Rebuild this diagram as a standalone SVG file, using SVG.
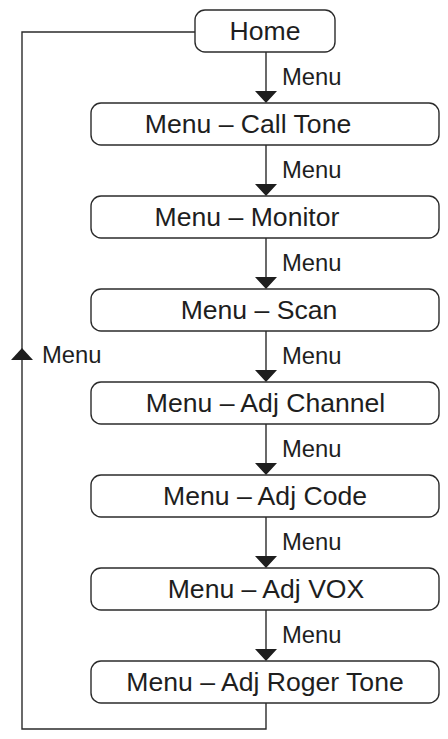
<svg xmlns="http://www.w3.org/2000/svg" width="448" height="739" viewBox="0 0 448 739">
<defs>
<style>
.box{fill:#fff;stroke:#2b2b2b;stroke-width:1.4}
.t{font-family:"Liberation Sans",Arial,sans-serif;font-size:26.6px;fill:#1e1e1e;text-anchor:middle}
.l{font-family:"Liberation Sans",Arial,sans-serif;font-size:23.8px;fill:#1e1e1e}
.c{fill:none;stroke:#2b2b2b;stroke-width:1.4}
.a{fill:#1e1e1e}
</style>
</defs>
<rect width="448" height="739" fill="#fff"/>
<g id="connectors">
<path class="c" d="M266 52V92M266 145V185M266 238V278M266 331V371M266 424V464M266 517V557M266 610V650"/>
<path class="c" d="M266 703V729H22V32H195"/>
<path class="a" d="M255 91H277L266 103ZM255 184H277L266 196ZM255 277H277L266 289ZM255 370H277L266 382ZM255 463H277L266 475ZM255 556H277L266 568ZM255 649H277L266 661Z"/>
<path class="a" d="M11 360H33L22 348Z"/>
<text class="l" x="282" y="85">Menu</text>
<text class="l" x="282" y="178">Menu</text>
<text class="l" x="282" y="271">Menu</text>
<text class="l" x="282" y="364">Menu</text>
<text class="l" x="282" y="457">Menu</text>
<text class="l" x="282" y="550">Menu</text>
<text class="l" x="282" y="643">Menu</text>
<text class="l" x="42" y="363">Menu</text>
</g>
<g id="home"><rect class="box" x="195" y="10" width="140" height="42" rx="10"/><text class="t" x="265" y="40">Home</text></g>
<g id="call-tone"><rect class="box" x="91" y="103" width="348" height="42" rx="10"/><text class="t" x="248" y="133">Menu – Call Tone</text></g>
<g id="monitor"><rect class="box" x="91" y="196" width="348" height="42" rx="10"/><text class="t" x="247" y="226">Menu – Monitor</text></g>
<g id="scan"><rect class="box" x="91" y="289" width="348" height="42" rx="10"/><text class="t" x="259" y="319">Menu – Scan</text></g>
<g id="adj-channel"><rect class="box" x="91" y="382" width="348" height="42" rx="10"/><text class="t" x="265.5" y="412">Menu – Adj Channel</text></g>
<g id="adj-code"><rect class="box" x="91" y="475" width="348" height="42" rx="10"/><text class="t" x="265" y="505">Menu – Adj Code</text></g>
<g id="adj-vox"><rect class="box" x="91" y="568" width="348" height="42" rx="10"/><text class="t" x="266" y="598">Menu – Adj VOX</text></g>
<g id="adj-roger-tone"><rect class="box" x="91" y="661" width="348" height="42" rx="10"/><text class="t" x="265" y="691">Menu – Adj Roger Tone</text></g>
</svg>
